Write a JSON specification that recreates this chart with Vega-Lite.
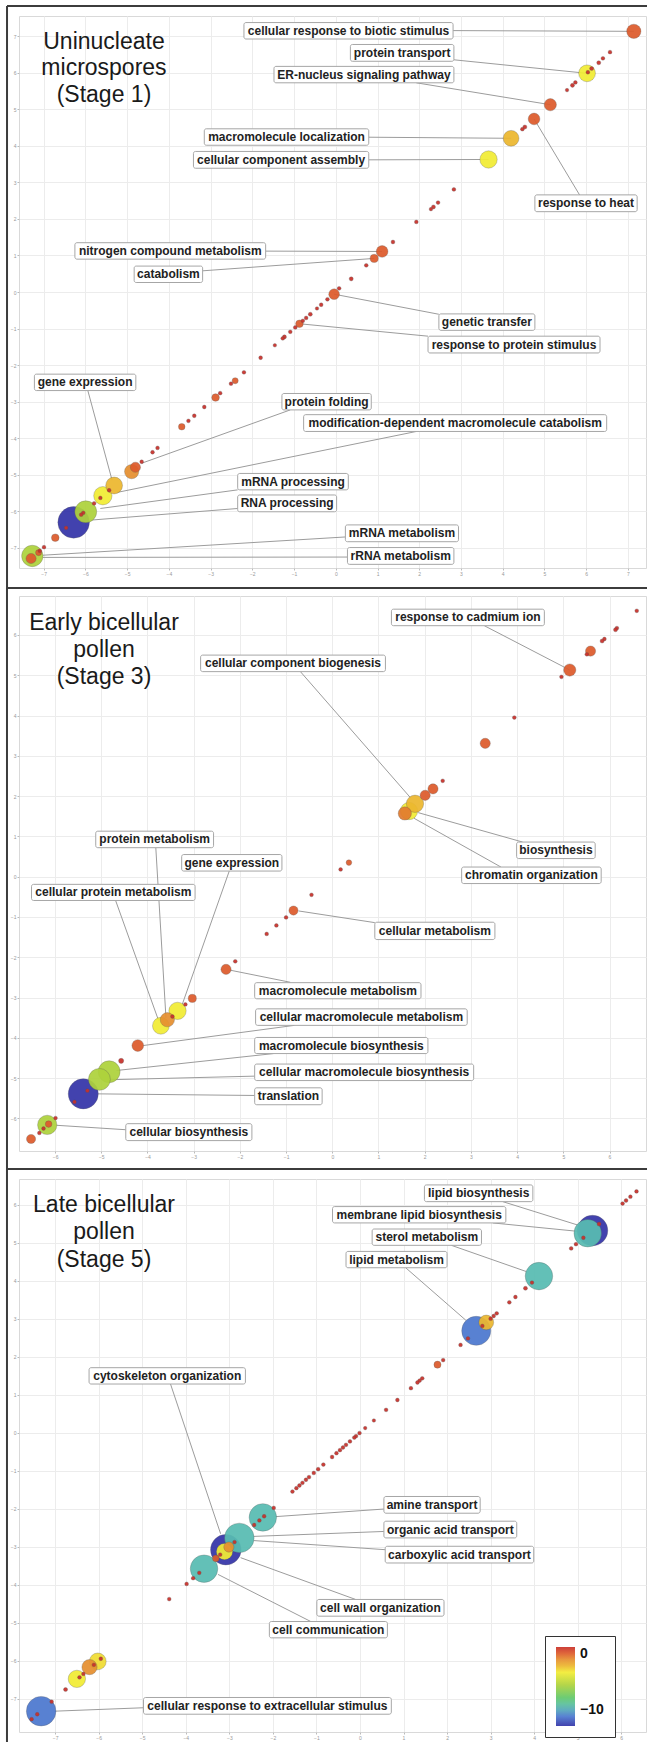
{
  "$schema": "https://vega.github.io/schema/vega-lite/v6.json",
  "padding": {"left": 5, "top": 4, "right": 0, "bottom": 0},
  "background": "white",
  "bounds": "flush",
  "spacing": 28,
  "config": {
    "font": "Liberation Sans",
    "view": {"stroke": "#d9d9d9", "strokeWidth": 1},
    "axis": {"grid": true, "gridColor": "#ececec", "domain": false, "labelFontSize": 5, "labelColor": "#999999", "tickColor": "#bbbbbb", "tickSize": 2, "labelPadding": 1, "labelOverlap": false, "labelFlush": false}
  },
  "resolve": {"scale": {"color": "independent", "size": "independent"}, "legend": {"color": "independent", "size": "independent"}},
  "datasets": {
    "f1": [{"x": -7.876, "y": 7.834, "x2": -7.876, "y2": -8.108}, {"x": -7.876, "y": 7.834, "x2": 7.456, "y2": 7.834}, {"x": -7.876, "y": -8.108, "x2": 7.456, "y2": -8.108}],
    "f2": [{"x": -7.041, "y": 7.166, "x2": -7.041, "y2": -7.255}, {"x": -7.041, "y": -7.255, "x2": 6.812, "y2": -7.255}],
    "f3": [{"x": -8.105, "y": 6.939, "x2": -8.105, "y2": -8.141}],
    "l1": [
      {"x": 2.81, "y": 7.16, "x2": 7.14, "y2": 7.14},
      {"x": 2.83, "y": 6.36, "x2": 6.02, "y2": 5.99},
      {"x": 1.93, "y": 5.73, "x2": 5.14, "y2": 5.13},
      {"x": 0.79, "y": 4.24, "x2": 4.2, "y2": 4.21},
      {"x": 0.79, "y": 3.62, "x2": 3.66, "y2": 3.63},
      {"x": 5.84, "y": 2.66, "x2": 4.75, "y2": 4.74},
      {"x": -1.68, "y": 1.12, "x2": 1.11, "y2": 1.11},
      {"x": -3.19, "y": 0.58, "x2": 0.92, "y2": 0.92},
      {"x": 2.47, "y": -0.61, "x2": -0.04, "y2": -0.06},
      {"x": 2.21, "y": -1.21, "x2": -0.87, "y2": -0.87},
      {"x": -5.94, "y": -2.7, "x2": -5.36, "y2": -5.15},
      {"x": -1.09, "y": -3.23, "x2": -4.65, "y2": -4.69},
      {"x": 1.93, "y": -3.82, "x2": -5.24, "y2": -5.49},
      {"x": -2.35, "y": -5.42, "x2": -5.64, "y2": -5.93},
      {"x": -2.35, "y": -5.93, "x2": -5.89, "y2": -6.25},
      {"x": 0.23, "y": -6.71, "x2": -7.02, "y2": -7.21},
      {"x": 0.28, "y": -7.26, "x2": -7.02, "y2": -7.27}
    ],
    "l2": [
      {"x": 3.29, "y": 6.23, "x2": 5.14, "y2": 5.13},
      {"x": -0.69, "y": 5.09, "x2": 1.7, "y2": 1.95},
      {"x": 4.12, "y": 0.86, "x2": 1.86, "y2": 1.59},
      {"x": 3.65, "y": 0.24, "x2": 1.77, "y2": 1.45},
      {"x": -3.82, "y": 0.72, "x2": -3.6, "y2": -3.5},
      {"x": -2.23, "y": 0.14, "x2": -3.26, "y2": -3.21},
      {"x": -4.69, "y": -0.59, "x2": -3.76, "y2": -3.57},
      {"x": 0.92, "y": -1.14, "x2": -0.73, "y2": -0.85},
      {"x": -0.91, "y": -2.62, "x2": -2.21, "y2": -2.32},
      {"x": -0.82, "y": -3.69, "x2": -4.09, "y2": -4.19},
      {"x": -1.27, "y": -4.39, "x2": -4.67, "y2": -4.81},
      {"x": -1.68, "y": -4.95, "x2": -4.85, "y2": -5.04},
      {"x": -1.68, "y": -5.43, "x2": -5.07, "y2": -5.39},
      {"x": -4.47, "y": -6.28, "x2": -5.97, "y2": -6.17}
    ],
    "l3": [
      {"x": 3.28, "y": 6.08, "x2": 5.04, "y2": 5.45},
      {"x": 3.05, "y": 5.52, "x2": 4.99, "y2": 5.3},
      {"x": 2.1, "y": 4.93, "x2": 3.82, "y2": 4.24},
      {"x": 1.05, "y": 4.34, "x2": 2.43, "y2": 2.96},
      {"x": -4.35, "y": 1.28, "x2": -3.2, "y2": -2.66},
      {"x": 0.55, "y": -2.01, "x2": -1.94, "y2": -2.21},
      {"x": 0.55, "y": -2.6, "x2": -2.44, "y2": -2.73},
      {"x": 0.58, "y": -3.08, "x2": -2.44, "y2": -2.84},
      {"x": -0.1, "y": -4.39, "x2": -2.74, "y2": -3.29},
      {"x": -1.13, "y": -4.97, "x2": -3.26, "y2": -3.73},
      {"x": -4.97, "y": -7.24, "x2": -7.01, "y2": -7.33}
    ],
    "b1": [
      {"x": -6.28, "y": -6.31, "v": -12.5, "s": 6.2},
      {"x": -5.99, "y": -6.02, "v": -6, "s": 4.3},
      {"x": -7.27, "y": -7.23, "v": -6, "s": 4.2},
      {"x": -5.58, "y": -5.58, "v": -4, "s": 3.6},
      {"x": -5.31, "y": -5.3, "v": -3, "s": 3.3},
      {"x": -4.89, "y": -4.92, "v": -2, "s": 2.8},
      {"x": -4.8, "y": -4.8, "v": -1, "s": 2.0},
      {"x": -7.3, "y": -7.3, "v": -1, "s": 2.0},
      {"x": -7.12, "y": -7.14, "v": -1, "s": 1.2},
      {"x": -6.72, "y": -6.73, "v": -1, "s": 1.5},
      {"x": 3.66, "y": 3.63, "v": -4, "s": 3.4},
      {"x": 6.02, "y": 5.99, "v": -4, "s": 3.3},
      {"x": 4.2, "y": 4.21, "v": -3, "s": 3.1},
      {"x": 7.14, "y": 7.14, "v": -1, "s": 2.8},
      {"x": 5.14, "y": 5.13, "v": -1, "s": 2.4},
      {"x": 4.75, "y": 4.74, "v": -1, "s": 2.3},
      {"x": 1.11, "y": 1.11, "v": -1, "s": 2.3},
      {"x": 0.92, "y": 0.92, "v": -1, "s": 1.6},
      {"x": -0.04, "y": -0.06, "v": -1, "s": 2.1},
      {"x": -0.87, "y": -0.87, "v": -1, "s": 1.5},
      {"x": -2.41, "y": -2.43, "v": -1, "s": 1.2},
      {"x": -2.88, "y": -2.89, "v": -1, "s": 1.5},
      {"x": -3.69, "y": -3.69, "v": -1, "s": 1.3},
      {"x": 6.57, "y": 6.57, "v": 0, "s": 0.75},
      {"x": 6.4, "y": 6.4, "v": 0, "s": 0.75},
      {"x": 6.3, "y": 6.28, "v": 0, "s": 0.8},
      {"x": 6.13, "y": 6.12, "v": 0, "s": 0.8},
      {"x": 6.04, "y": 6.02, "v": 0, "s": 0.75},
      {"x": 5.74, "y": 5.74, "v": 0, "s": 0.75},
      {"x": 5.67, "y": 5.66, "v": 0, "s": 0.8},
      {"x": 5.54, "y": 5.53, "v": 0, "s": 0.7},
      {"x": 4.53, "y": 4.52, "v": 0, "s": 0.8},
      {"x": 4.47, "y": 4.46, "v": 0, "s": 0.75},
      {"x": 2.83, "y": 2.81, "v": 0, "s": 0.75},
      {"x": 2.45, "y": 2.45, "v": 0, "s": 0.75},
      {"x": 2.34, "y": 2.33, "v": 0, "s": 0.8},
      {"x": 2.28, "y": 2.27, "v": 0, "s": 0.7},
      {"x": 1.93, "y": 1.92, "v": 0, "s": 0.75},
      {"x": 1.37, "y": 1.37, "v": 0, "s": 0.75},
      {"x": 0.73, "y": 0.73, "v": 0, "s": 0.75},
      {"x": 0.37, "y": 0.36, "v": 0, "s": 0.8},
      {"x": 0.08, "y": 0.1, "v": 0, "s": 0.75},
      {"x": -0.2, "y": -0.2, "v": 0, "s": 0.75},
      {"x": -0.35, "y": -0.35, "v": 0, "s": 0.75},
      {"x": -0.45, "y": -0.45, "v": 0, "s": 0.7},
      {"x": -0.61, "y": -0.61, "v": 0, "s": 0.8},
      {"x": -0.71, "y": -0.71, "v": 0, "s": 0.75},
      {"x": -0.79, "y": -0.79, "v": 0, "s": 0.75},
      {"x": -0.97, "y": -0.97, "v": 0, "s": 0.75},
      {"x": -1.09, "y": -1.09, "v": 0, "s": 0.75},
      {"x": -1.23, "y": -1.23, "v": 0, "s": 0.8},
      {"x": -1.27, "y": -1.27, "v": 0, "s": 0.75},
      {"x": -1.46, "y": -1.46, "v": 0, "s": 0.7},
      {"x": -1.8, "y": -1.8, "v": 0, "s": 0.75},
      {"x": -2.2, "y": -2.2, "v": 0, "s": 0.75},
      {"x": -2.51, "y": -2.51, "v": 0, "s": 0.75},
      {"x": -2.77, "y": -2.77, "v": 0, "s": 0.75},
      {"x": -3.15, "y": -3.15, "v": 0, "s": 0.75},
      {"x": -3.39, "y": -3.39, "v": 0, "s": 0.75},
      {"x": -3.53, "y": -3.53, "v": 0, "s": 0.75},
      {"x": -4.27, "y": -4.27, "v": 0, "s": 0.75},
      {"x": -4.39, "y": -4.39, "v": 0, "s": 0.75},
      {"x": -4.65, "y": -4.65, "v": 0, "s": 0.75},
      {"x": -5.43, "y": -5.43, "v": 0, "s": 0.75},
      {"x": -5.64, "y": -5.64, "v": 0, "s": 0.75},
      {"x": -5.79, "y": -5.79, "v": 0, "s": 0.75},
      {"x": -6.05, "y": -6.05, "v": 0, "s": 0.75},
      {"x": -6.1, "y": -6.1, "v": 0, "s": 0.75},
      {"x": -6.46, "y": -6.46, "v": 0, "s": 0.75},
      {"x": -6.99, "y": -6.99, "v": 0, "s": 0.75},
      {"x": -7.09, "y": -7.09, "v": 0, "s": 0.75}
    ],
    "b2": [
      {"x": -5.39, "y": -5.39, "v": -12.5, "s": 5.9},
      {"x": -4.83, "y": -4.84, "v": -6, "s": 4.3},
      {"x": -5.04, "y": -5.03, "v": -6, "s": 4.3},
      {"x": -6.17, "y": -6.16, "v": -6, "s": 3.8},
      {"x": -6.14, "y": -6.14, "v": -1, "s": 1.3},
      {"x": -6.52, "y": -6.51, "v": -1, "s": 1.8},
      {"x": -4.21, "y": -4.19, "v": -1, "s": 2.3},
      {"x": -3.35, "y": -3.33, "v": -4, "s": 3.4},
      {"x": -3.71, "y": -3.7, "v": -4, "s": 3.3},
      {"x": -3.57, "y": -3.55, "v": -2, "s": 2.8},
      {"x": -3.03, "y": -3.02, "v": -1, "s": 1.6},
      {"x": -2.3, "y": -2.3, "v": -1, "s": 2.0},
      {"x": -0.84, "y": -0.84, "v": -1, "s": 1.8},
      {"x": 0.36, "y": 0.35, "v": -1, "s": 1.1},
      {"x": 1.66, "y": 1.63, "v": -4, "s": 3.4},
      {"x": 1.79, "y": 1.81, "v": -3, "s": 3.4},
      {"x": 1.57, "y": 1.57, "v": -1.6, "s": 2.6},
      {"x": 2.01, "y": 2.02, "v": -1, "s": 2.0},
      {"x": 2.18, "y": 2.18, "v": -1, "s": 2.0},
      {"x": 3.31, "y": 3.31, "v": -1, "s": 2.0},
      {"x": 5.14, "y": 5.13, "v": -1, "s": 2.4},
      {"x": 5.59, "y": 5.6, "v": -1, "s": 2.0},
      {"x": 6.59, "y": 6.6, "v": 0, "s": 0.75},
      {"x": 6.16, "y": 6.17, "v": 0, "s": 0.75},
      {"x": 6.13, "y": 6.13, "v": 0, "s": 0.8},
      {"x": 5.89, "y": 5.9, "v": 0, "s": 0.75},
      {"x": 5.84, "y": 5.85, "v": 0, "s": 0.8},
      {"x": 5.51, "y": 5.52, "v": 0, "s": 0.75},
      {"x": 4.96, "y": 4.96, "v": 0, "s": 0.75},
      {"x": 3.94, "y": 3.95, "v": 0, "s": 0.75},
      {"x": 2.39, "y": 2.38, "v": 0, "s": 0.75},
      {"x": 0.18, "y": 0.18, "v": 0, "s": 0.75},
      {"x": -0.45, "y": -0.45, "v": 0, "s": 0.75},
      {"x": -1.0, "y": -1.01, "v": 0, "s": 0.75},
      {"x": -1.21, "y": -1.21, "v": 0, "s": 0.75},
      {"x": -1.42, "y": -1.42, "v": 0, "s": 0.75},
      {"x": -2.1, "y": -2.1, "v": 0, "s": 0.75},
      {"x": -3.18, "y": -3.17, "v": 0, "s": 0.75},
      {"x": -3.46, "y": -3.47, "v": 0, "s": 0.75},
      {"x": -4.57, "y": -4.57, "v": 0, "s": 1.0},
      {"x": -5.3, "y": -5.31, "v": 0, "s": 0.75},
      {"x": -5.58, "y": -5.59, "v": 0, "s": 0.75},
      {"x": -5.99, "y": -5.99, "v": 0, "s": 0.75},
      {"x": -6.25, "y": -6.25, "v": 0, "s": 0.75},
      {"x": -6.34, "y": -6.36, "v": 0, "s": 0.75}
    ],
    "b3": [
      {"x": 5.34, "y": 5.32, "v": -12.5, "s": 6.0},
      {"x": 5.23, "y": 5.25, "v": -9.5, "s": 5.4},
      {"x": 4.11, "y": 4.12, "v": -9.5, "s": 5.4},
      {"x": 2.67, "y": 2.68, "v": -11, "s": 5.7},
      {"x": 2.9, "y": 2.9, "v": -3, "s": 2.9},
      {"x": 1.78, "y": 1.79, "v": -1, "s": 1.4},
      {"x": -2.23, "y": -2.23, "v": -9.5, "s": 5.4},
      {"x": -3.08, "y": -3.08, "v": -12.5, "s": 6.0},
      {"x": -2.77, "y": -2.77, "v": -9.5, "s": 5.8},
      {"x": -3.58, "y": -3.58, "v": -9.5, "s": 5.4},
      {"x": -3.11, "y": -3.13, "v": -4, "s": 3.2},
      {"x": -3.01, "y": -3.01, "v": -2, "s": 2.0},
      {"x": -3.31, "y": -3.31, "v": -1, "s": 1.3},
      {"x": -6.5, "y": -6.48, "v": -4, "s": 3.4},
      {"x": -6.02, "y": -6.02, "v": -3.7, "s": 3.3},
      {"x": -6.21, "y": -6.17, "v": -2, "s": 3.0},
      {"x": -7.32, "y": -7.33, "v": -11, "s": 5.8},
      {"x": 6.35, "y": 6.35, "v": 0, "s": 0.75},
      {"x": 6.21, "y": 6.21, "v": 0, "s": 0.75},
      {"x": 6.11, "y": 6.11, "v": 0, "s": 0.75},
      {"x": 6.03, "y": 6.03, "v": 0, "s": 0.75},
      {"x": 5.49, "y": 5.49, "v": 0, "s": 0.8},
      {"x": 5.13, "y": 5.13, "v": 0, "s": 0.75},
      {"x": 4.96, "y": 4.96, "v": 0, "s": 0.75},
      {"x": 4.85, "y": 4.85, "v": 0, "s": 0.75},
      {"x": 3.95, "y": 3.95, "v": 0, "s": 0.75},
      {"x": 3.8, "y": 3.8, "v": 0, "s": 0.8},
      {"x": 3.57, "y": 3.57, "v": 0, "s": 0.75},
      {"x": 3.43, "y": 3.43, "v": 0, "s": 0.75},
      {"x": 3.14, "y": 3.14, "v": 0, "s": 0.75},
      {"x": 3.07, "y": 3.07, "v": 0, "s": 0.75},
      {"x": 3.0, "y": 3.0, "v": 0, "s": 0.75},
      {"x": 2.81, "y": 2.81, "v": 0, "s": 0.75},
      {"x": 2.48, "y": 2.48, "v": 0, "s": 0.75},
      {"x": 2.31, "y": 2.31, "v": 0, "s": 0.75},
      {"x": 1.91, "y": 1.91, "v": 0, "s": 0.75},
      {"x": 1.43, "y": 1.43, "v": 0, "s": 0.75},
      {"x": 1.37, "y": 1.37, "v": 0, "s": 0.75},
      {"x": 1.32, "y": 1.32, "v": 0, "s": 0.75},
      {"x": 1.17, "y": 1.17, "v": 0, "s": 0.75},
      {"x": 0.86, "y": 0.86, "v": 0, "s": 0.75},
      {"x": 0.6, "y": 0.6, "v": 0, "s": 0.75},
      {"x": 0.32, "y": 0.32, "v": 0, "s": 0.7},
      {"x": 0.12, "y": 0.12, "v": 0, "s": 0.7},
      {"x": -0.01, "y": -0.01, "v": 0, "s": 0.75},
      {"x": -0.09, "y": -0.09, "v": 0, "s": 0.75},
      {"x": -0.13, "y": -0.13, "v": 0, "s": 0.75},
      {"x": -0.23, "y": -0.23, "v": 0, "s": 0.75},
      {"x": -0.32, "y": -0.32, "v": 0, "s": 0.75},
      {"x": -0.39, "y": -0.39, "v": 0, "s": 0.75},
      {"x": -0.46, "y": -0.46, "v": 0, "s": 0.75},
      {"x": -0.54, "y": -0.54, "v": 0, "s": 0.75},
      {"x": -0.64, "y": -0.64, "v": 0, "s": 0.75},
      {"x": -0.84, "y": -0.84, "v": 0, "s": 0.75},
      {"x": -0.96, "y": -0.96, "v": 0, "s": 0.75},
      {"x": -1.06, "y": -1.06, "v": 0, "s": 0.75},
      {"x": -1.17, "y": -1.17, "v": 0, "s": 0.75},
      {"x": -1.24, "y": -1.24, "v": 0, "s": 0.75},
      {"x": -1.32, "y": -1.32, "v": 0, "s": 0.75},
      {"x": -1.39, "y": -1.39, "v": 0, "s": 0.75},
      {"x": -1.46, "y": -1.46, "v": 0, "s": 0.75},
      {"x": -1.55, "y": -1.55, "v": 0, "s": 0.75},
      {"x": -1.98, "y": -1.98, "v": 0, "s": 0.75},
      {"x": -2.2, "y": -2.2, "v": 0, "s": 0.75},
      {"x": -2.31, "y": -2.31, "v": 0, "s": 0.75},
      {"x": -2.43, "y": -2.43, "v": 0, "s": 0.75},
      {"x": -2.88, "y": -2.88, "v": 0, "s": 0.75},
      {"x": -3.21, "y": -3.21, "v": 0, "s": 0.75},
      {"x": -3.69, "y": -3.69, "v": 0, "s": 0.75},
      {"x": -3.83, "y": -3.83, "v": 0, "s": 0.75},
      {"x": -3.98, "y": -3.98, "v": 0, "s": 0.75},
      {"x": -4.38, "y": -4.38, "v": 0, "s": 0.75},
      {"x": -5.95, "y": -5.95, "v": 0, "s": 0.75},
      {"x": -6.11, "y": -6.11, "v": 0, "s": 0.75},
      {"x": -6.35, "y": -6.35, "v": 0, "s": 0.75},
      {"x": -6.44, "y": -6.44, "v": 0, "s": 0.75},
      {"x": -6.76, "y": -6.76, "v": 0, "s": 0.8},
      {"x": -7.08, "y": -7.08, "v": 0, "s": 0.75},
      {"x": -7.41, "y": -7.41, "v": 0, "s": 0.75},
      {"x": -7.54, "y": -7.54, "v": 0, "s": 0.75}
    ],
    "x1": [
      {"x": -2.2, "x2": 2.81, "y": 7.38, "y2": 6.93},
      {"x": 0.35, "x2": 2.83, "y": 6.78, "y2": 6.32},
      {"x": -1.48, "x2": 2.83, "y": 6.18, "y2": 5.73},
      {"x": -3.15, "x2": 0.79, "y": 4.47, "y2": 4.02},
      {"x": -3.41, "x2": 0.79, "y": 3.85, "y2": 3.39},
      {"x": 4.77, "x2": 7.22, "y": 2.66, "y2": 2.2},
      {"x": -6.25, "x2": -1.68, "y": 1.35, "y2": 0.9},
      {"x": -4.83, "x2": -3.19, "y": 0.71, "y2": 0.26},
      {"x": 2.47, "x2": 4.77, "y": -0.6, "y2": -1.05},
      {"x": 2.21, "x2": 6.33, "y": -1.21, "y2": -1.67},
      {"x": -7.22, "x2": -4.79, "y": -2.25, "y2": -2.7},
      {"x": -1.29, "x2": 0.85, "y": -2.78, "y2": -3.23},
      {"x": -0.77, "x2": 6.49, "y": -3.36, "y2": -3.82},
      {"x": -2.35, "x2": 0.3, "y": -4.97, "y2": -5.42},
      {"x": -2.35, "x2": 0.02, "y": -5.56, "y2": -6.02},
      {"x": 0.23, "x2": 2.94, "y": -6.38, "y2": -6.84},
      {"x": 0.28, "x2": 2.83, "y": -7.0, "y2": -7.46}
    ],
    "x2": [
      {"x": 1.28, "x2": 4.59, "y": 6.64, "y2": 6.23},
      {"x": -2.85, "x2": 1.15, "y": 5.5, "y2": 5.09},
      {"x": 3.99, "x2": 5.69, "y": 0.86, "y2": 0.45},
      {"x": 2.8, "x2": 5.82, "y": 0.24, "y2": -0.17},
      {"x": -5.12, "x2": -2.57, "y": 1.13, "y2": 0.72},
      {"x": -3.26, "x2": -1.09, "y": 0.55, "y2": 0.14},
      {"x": -6.51, "x2": -2.97, "y": -0.19, "y2": -0.59},
      {"x": 0.92, "x2": 3.52, "y": -1.13, "y2": -1.56},
      {"x": -1.68, "x2": 1.92, "y": -2.63, "y2": -3.03},
      {"x": -1.66, "x2": 2.92, "y": -3.28, "y2": -3.69},
      {"x": -1.68, "x2": 2.07, "y": -3.99, "y2": -4.39},
      {"x": -1.68, "x2": 3.06, "y": -4.65, "y2": -5.06},
      {"x": -1.68, "x2": -0.22, "y": -5.24, "y2": -5.66},
      {"x": -4.47, "x2": -1.74, "y": -6.13, "y2": -6.55}
    ],
    "x3": [
      {"x": 1.48, "x2": 3.97, "y": 6.52, "y2": 6.08},
      {"x": -0.63, "x2": 3.35, "y": 5.95, "y2": 5.52},
      {"x": 0.28, "x2": 2.79, "y": 5.36, "y2": 4.93},
      {"x": -0.32, "x2": 2.0, "y": 4.77, "y2": 4.34},
      {"x": -6.22, "x2": -2.63, "y": 1.71, "y2": 1.28},
      {"x": 0.55, "x2": 2.76, "y": -1.68, "y2": -2.12},
      {"x": 0.55, "x2": 3.6, "y": -2.33, "y2": -2.77},
      {"x": 0.58, "x2": 3.99, "y": -2.99, "y2": -3.43},
      {"x": -0.99, "x2": 1.93, "y": -4.39, "y2": -4.83},
      {"x": -2.08, "x2": 0.63, "y": -4.97, "y2": -5.4},
      {"x": -4.97, "x2": 0.72, "y": -6.97, "y2": -7.41}
    ],
    "t1": [
      {"x": 0.305, "y": 7.155, "t": "cellular response to biotic stimulus"},
      {"x": 1.59, "y": 6.55, "t": "protein transport"},
      {"x": 0.675, "y": 5.955, "t": "ER-nucleus signaling pathway"},
      {"x": -1.18, "y": 4.245, "t": "macromolecule localization"},
      {"x": -1.31, "y": 3.62, "t": "cellular component assembly"},
      {"x": 5.995, "y": 2.43, "t": "response to heat"},
      {"x": -3.965, "y": 1.125, "t": "nitrogen compound metabolism"},
      {"x": -4.01, "y": 0.485, "t": "catabolism"},
      {"x": 3.62, "y": -0.825, "t": "genetic transfer"},
      {"x": 4.27, "y": -1.44, "t": "response to protein stimulus"},
      {"x": -6.005, "y": -2.475, "t": "gene expression"},
      {"x": -0.22, "y": -3.005, "t": "protein folding"},
      {"x": 2.86, "y": -3.59, "t": "modification-dependent macromolecule catabolism"},
      {"x": -1.025, "y": -5.195, "t": "mRNA processing"},
      {"x": -1.165, "y": -5.79, "t": "RNA processing"},
      {"x": 1.585, "y": -6.61, "t": "mRNA metabolism"},
      {"x": 1.555, "y": -7.23, "t": "rRNA metabolism"}
    ],
    "t2": [
      {"x": 2.935, "y": 6.435, "t": "response to cadmium ion"},
      {"x": -0.85, "y": 5.295, "t": "cellular component biogenesis"},
      {"x": 4.84, "y": 0.655, "t": "biosynthesis"},
      {"x": 4.31, "y": 0.035, "t": "chromatin organization"},
      {"x": -3.845, "y": 0.925, "t": "protein metabolism"},
      {"x": -2.175, "y": 0.345, "t": "gene expression"},
      {"x": -4.74, "y": -0.39, "t": "cellular protein metabolism"},
      {"x": 2.22, "y": -1.345, "t": "cellular metabolism"},
      {"x": 0.12, "y": -2.83, "t": "macromolecule metabolism"},
      {"x": 0.63, "y": -3.485, "t": "cellular macromolecule metabolism"},
      {"x": 0.195, "y": -4.19, "t": "macromolecule biosynthesis"},
      {"x": 0.69, "y": -4.855, "t": "cellular macromolecule biosynthesis"},
      {"x": -0.95, "y": -5.45, "t": "translation"},
      {"x": -3.105, "y": -6.34, "t": "cellular biosynthesis"}
    ],
    "t3": [
      {"x": 2.725, "y": 6.3, "t": "lipid biosynthesis"},
      {"x": 1.36, "y": 5.735, "t": "membrane lipid biosynthesis"},
      {"x": 1.535, "y": 5.145, "t": "sterol metabolism"},
      {"x": 0.84, "y": 4.555, "t": "lipid metabolism"},
      {"x": -4.425, "y": 1.495, "t": "cytoskeleton organization"},
      {"x": 1.655, "y": -1.9, "t": "amine transport"},
      {"x": 2.075, "y": -2.55, "t": "organic acid transport"},
      {"x": 2.285, "y": -3.21, "t": "carboxylic acid transport"},
      {"x": 0.47, "y": -4.61, "t": "cell wall organization"},
      {"x": -0.725, "y": -5.185, "t": "cell communication"},
      {"x": -2.125, "y": -7.19, "t": "cellular response to extracellular stimulus"}
    ],
    "h1": [
      {"x": -5.553, "y": 6.664, "t": "Uninucleate"},
      {"x": -5.553, "y": 5.938, "t": "microspores"},
      {"x": -5.553, "y": 5.212, "t": "(Stage 1)"}
    ],
    "h2": [
      {"x": -4.941, "y": 6.116, "t": "Early bicellular"},
      {"x": -4.941, "y": 5.446, "t": "pollen"},
      {"x": -4.941, "y": 4.776, "t": "(Stage 3)"}
    ],
    "h3": [
      {"x": -5.877, "y": 5.815, "t": "Late bicellular"},
      {"x": -5.877, "y": 5.091, "t": "pollen"},
      {"x": -5.877, "y": 4.367, "t": "(Stage 5)"}
    ]
  },
  "vconcat": [
    {
      "width": 627,
      "height": 552,
      "encoding": {
        "x": {"field": "x", "type": "quantitative", "scale": {"domain": [-7.589, 7.432], "nice": false, "zero": false}, "axis": {"title": null, "values": [-7, -6, -5, -4, -3, -2, -1, 0, 1, 2, 3, 4, 5, 6, 7]}},
        "y": {"field": "y", "type": "quantitative", "scale": {"domain": [-7.56, 7.56], "nice": false, "zero": false}, "axis": {"title": null, "values": [-7, -6, -5, -4, -3, -2, -1, 0, 1, 2, 3, 4, 5, 6, 7]}}
      },
      "layer": [
        {"data": {"name": "f1"}, "mark": {"type": "rule", "stroke": "#3c3c3c", "strokeWidth": 2}, "encoding": {"x2": {"field": "x2"}, "y2": {"field": "y2"}}},
        {"data": {"name": "l1"}, "mark": {"type": "rule", "stroke": "#9c9c9c", "strokeWidth": 1}, "encoding": {"x2": {"field": "x2"}, "y2": {"field": "y2"}}},
        {"data": {"name": "b1"}, "mark": {"type": "circle", "opacity": 0.93, "stroke": "#555555", "strokeWidth": 0.6, "strokeOpacity": 0.5},
         "encoding": {
           "size": {"field": "s", "type": "quantitative", "scale": {"type": "pow", "exponent": 2, "domain": [0, 6], "range": [0, 934.8]}, "legend": null},
           "color": {"field": "v", "type": "quantitative", "scale": {"domain": [-12.5, -11, -9.5, -8, -6, -4, -3, -2, -1, 0], "range": ["#3434a8", "#4c78cf", "#58bcb2", "#62c86a", "#aed23c", "#f2ec34", "#ecb72f", "#e69030", "#dd5b2c", "#c9302a"], "interpolate": "rgb"}, "legend": null}
         }},
        {"data": {"name": "x1"}, "mark": {"type": "rect", "fill": "white", "stroke": "#a6a6a6", "strokeWidth": 1, "cornerRadius": 2}, "encoding": {"x2": {"field": "x2"}, "y2": {"field": "y2"}}},
        {"data": {"name": "t1"}, "mark": {"type": "text", "font": "Liberation Sans", "fontSize": 12, "fontWeight": "bold", "color": "#222222", "align": "center", "baseline": "middle"}, "encoding": {"text": {"field": "t", "type": "nominal"}}},
        {"data": {"name": "h1"}, "mark": {"type": "text", "font": "Liberation Sans", "fontSize": 23, "color": "#1a1a1a", "align": "center", "baseline": "alphabetic"}, "encoding": {"text": {"field": "t", "type": "nominal"}}}
      ]
    },
    {
      "width": 627,
      "height": 555,
      "encoding": {
        "x": {"field": "x", "type": "quantitative", "scale": {"domain": [-6.781, 6.79], "nice": false, "zero": false}, "axis": {"title": null, "values": [-6, -5, -4, -3, -2, -1, 0, 1, 2, 3, 4, 5, 6]}},
        "y": {"field": "y", "type": "quantitative", "scale": {"domain": [-6.808, 6.967], "nice": false, "zero": false}, "axis": {"title": null, "values": [-6, -5, -4, -3, -2, -1, 0, 1, 2, 3, 4, 5, 6]}}
      },
      "layer": [
        {"data": {"name": "f2"}, "mark": {"type": "rule", "stroke": "#3c3c3c", "strokeWidth": 2}, "encoding": {"x2": {"field": "x2"}, "y2": {"field": "y2"}}},
        {"data": {"name": "l2"}, "mark": {"type": "rule", "stroke": "#9c9c9c", "strokeWidth": 1}, "encoding": {"x2": {"field": "x2"}, "y2": {"field": "y2"}}},
        {"data": {"name": "b2"}, "mark": {"type": "circle", "opacity": 0.93, "stroke": "#555555", "strokeWidth": 0.6, "strokeOpacity": 0.5},
         "encoding": {
           "size": {"field": "s", "type": "quantitative", "scale": {"type": "pow", "exponent": 2, "domain": [0, 6], "range": [0, 934.8]}, "legend": null},
           "color": {"field": "v", "type": "quantitative", "scale": {"domain": [-12.5, -11, -9.5, -8, -6, -4, -3, -2, -1, 0], "range": ["#3434a8", "#4c78cf", "#58bcb2", "#62c86a", "#aed23c", "#f2ec34", "#ecb72f", "#e69030", "#dd5b2c", "#c9302a"], "interpolate": "rgb"}, "legend": null}
         }},
        {"data": {"name": "x2"}, "mark": {"type": "rect", "fill": "white", "stroke": "#a6a6a6", "strokeWidth": 1, "cornerRadius": 2}, "encoding": {"x2": {"field": "x2"}, "y2": {"field": "y2"}}},
        {"data": {"name": "t2"}, "mark": {"type": "text", "font": "Liberation Sans", "fontSize": 12, "fontWeight": "bold", "color": "#222222", "align": "center", "baseline": "middle"}, "encoding": {"text": {"field": "t", "type": "nominal"}}},
        {"data": {"name": "h2"}, "mark": {"type": "text", "font": "Liberation Sans", "fontSize": 23, "color": "#1a1a1a", "align": "center", "baseline": "alphabetic"}, "encoding": {"text": {"field": "t", "type": "nominal"}}}
      ]
    },
    {
      "width": 627,
      "height": 553,
      "encoding": {
        "x": {"field": "x", "type": "quantitative", "scale": {"domain": [-7.829, 6.568], "nice": false, "zero": false}, "axis": {"title": null, "values": [-7, -6, -5, -4, -3, -2, -1, 0, 1, 2, 3, 4, 5, 6]}},
        "y": {"field": "y", "type": "quantitative", "scale": {"domain": [-7.878, 6.676], "nice": false, "zero": false}, "axis": {"title": null, "values": [-7, -6, -5, -4, -3, -2, -1, 0, 1, 2, 3, 4, 5, 6]}}
      },
      "layer": [
        {"data": {"name": "f3"}, "mark": {"type": "rule", "stroke": "#3c3c3c", "strokeWidth": 2}, "encoding": {"x2": {"field": "x2"}, "y2": {"field": "y2"}}},
        {"data": {"name": "l3"}, "mark": {"type": "rule", "stroke": "#9c9c9c", "strokeWidth": 1}, "encoding": {"x2": {"field": "x2"}, "y2": {"field": "y2"}}},
        {"data": {"name": "b3"}, "mark": {"type": "circle", "opacity": 0.93, "stroke": "#555555", "strokeWidth": 0.6, "strokeOpacity": 0.5},
         "encoding": {
           "size": {"field": "s", "type": "quantitative", "scale": {"type": "pow", "exponent": 2, "domain": [0, 6], "range": [0, 934.8]}, "legend": null},
           "color": {"field": "v", "type": "quantitative", "scale": {"domain": [-12.5, -11, -9.5, -8, -6, -4, -3, -2, -1, 0], "range": ["#3434a8", "#4c78cf", "#58bcb2", "#62c86a", "#aed23c", "#f2ec34", "#ecb72f", "#e69030", "#dd5b2c", "#c9302a"], "interpolate": "rgb"},
             "legend": {"orient": "none", "legendX": 526, "legendY": 457, "direction": "vertical", "title": null, "values": [0, -10], "gradientLength": 79, "gradientThickness": 19, "gradientStrokeWidth": 0, "labelFontSize": 14, "labelFontWeight": "bold", "labelColor": "#111111", "labelFont": "Liberation Sans", "labelOffset": 5, "padding": 11, "strokeColor": "#333333", "fillColor": "white", "format": "d"}}
         }},
        {"data": {"name": "x3"}, "mark": {"type": "rect", "fill": "white", "stroke": "#a6a6a6", "strokeWidth": 1, "cornerRadius": 2}, "encoding": {"x2": {"field": "x2"}, "y2": {"field": "y2"}}},
        {"data": {"name": "t3"}, "mark": {"type": "text", "font": "Liberation Sans", "fontSize": 12, "fontWeight": "bold", "color": "#222222", "align": "center", "baseline": "middle"}, "encoding": {"text": {"field": "t", "type": "nominal"}}},
        {"data": {"name": "h3"}, "mark": {"type": "text", "font": "Liberation Sans", "fontSize": 23, "color": "#1a1a1a", "align": "center", "baseline": "alphabetic"}, "encoding": {"text": {"field": "t", "type": "nominal"}}}
      ]
    }
  ]
}
